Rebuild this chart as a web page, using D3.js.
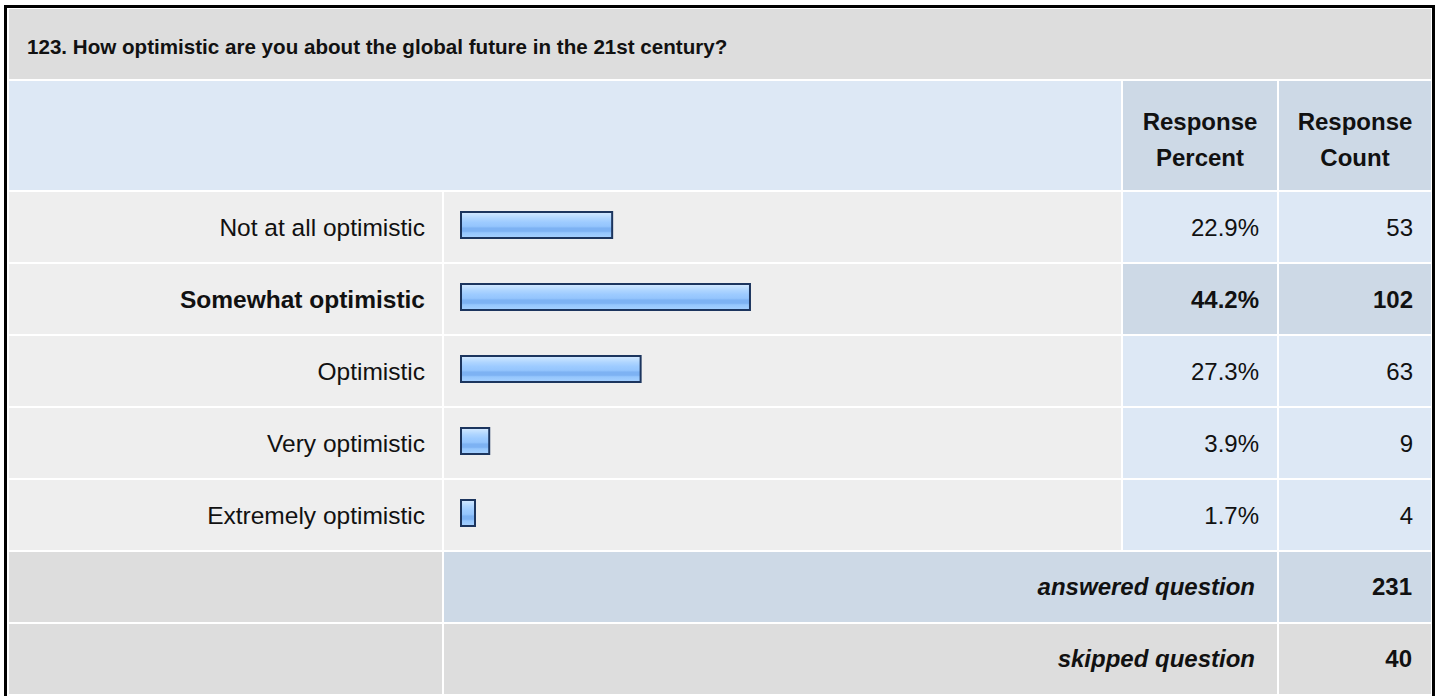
<!DOCTYPE html>
<html>
<head>
<meta charset="utf-8">
<script src="https://cdn.jsdelivr.net/npm/d3@7"></script>
<style>
  html, body { margin: 0; padding: 0; background: #ffffff; }
  svg { display: block; font-family: "Liberation Sans", Arial, sans-serif; }
</style>
</head>
<body>
<svg id="chart" width="1440" height="696"></svg>
<script>
// ---- data ----
const titleText = "123. How optimistic are you about the global future in the 21st century?";
const headerPercent = ["Response", "Percent"];
const headerCount = ["Response", "Count"];
const categories = ["Not at all optimistic", "Somewhat optimistic", "Optimistic", "Very optimistic", "Extremely optimistic"];
const percents = [22.9, 44.2, 27.3, 3.9, 1.7];
const counts = [53, 102, 63, 9, 4];
const highlighted = ["Somewhat optimistic"];
const summaryLabels = ["answered question", "skipped question"];
const summaryValues = [231, 40];

// ---- layout ----
const svg = d3.select("#chart");
const col = { labelL: 9, labelR: 442, barL: 444, barR: 1121, pctL: 1123, pctR: 1277, cntL: 1279, cntR: 1431 };
const C = {
  title: "#dddddd", header: "#dde8f5", headerDark: "#cdd9e6",
  rowLight: "#eeeeee", cellBlue: "#dde8f5", cellBlueDark: "#cdd9e6", gray: "#dddddd", text: "#111111"
};

// outer border (bottom edge falls outside the picture, as in the reference)
svg.append("rect").attr("x", 5.5).attr("y", 6.5).attr("width", 1428).attr("height", 720)
  .attr("fill", "none").attr("stroke", "#000").attr("stroke-width", 3);

function cell(x0, x1, y0, y1, fill) {
  svg.append("rect").attr("x", x0).attr("y", y0).attr("width", x1 - x0).attr("height", y1 - y0).attr("fill", fill);
}
function text(x, y, s, anchor, weight, style, size) {
  return svg.append("text").attr("x", x).attr("y", y).attr("text-anchor", anchor || "start")
    .attr("font-weight", weight || "normal").attr("font-style", style || "normal")
    .attr("font-size", size || 24).attr("fill", C.text).text(s);
}

// title row
cell(col.labelL, col.cntR, 9, 79, C.title);
text(27, 54, titleText, "start", "bold", "normal", 20.6);

// header row
cell(col.labelL, col.barR, 81, 190, C.header);
cell(col.pctL, col.pctR, 81, 190, C.headerDark);
cell(col.cntL, col.cntR, 81, 190, C.headerDark);
const pctC = (col.pctL + col.pctR) / 2, cntC = (col.cntL + col.cntR) / 2;
headerPercent.forEach((s, i) => text(pctC, 130 + i * 36, s, "middle", "bold"));
headerCount.forEach((s, i) => text(cntC, 130 + i * 36, s, "middle", "bold"));

// rows
const y = d3.scaleBand().domain(categories).range([192, 550]).paddingInner(2 / 72).paddingOuter(0);
const x = d3.scaleLinear().domain([0, 100]).range([0, 647]);

const defs = svg.append("defs");
const g = defs.append("linearGradient").attr("id", "barGrad").attr("x1", 0).attr("y1", 0).attr("x2", 0).attr("y2", 1);
[[0, "#d6eaff"], [0.12, "#c2e0ff"], [0.25, "#aed5ff"], [0.4, "#9dcbff"], [0.55, "#94c5fd"],
 [0.62, "#7db2f3"], [0.74, "#7db2f3"], [0.8, "#95c6fd"], [1, "#a6d1ff"]]
  .forEach(([o, c]) => g.append("stop").attr("offset", o).attr("stop-color", c));

categories.forEach((cat, i) => {
  const y0 = y(cat), y1 = y0 + y.bandwidth();
  const hl = highlighted.includes(cat);
  cell(col.labelL, col.labelR, y0, y1, C.rowLight);
  cell(col.barL, col.barR, y0, y1, C.rowLight);
  cell(col.pctL, col.pctR, y0, y1, hl ? C.cellBlueDark : C.cellBlue);
  cell(col.cntL, col.cntR, y0, y1, hl ? C.cellBlueDark : C.cellBlue);
  const ty = y0 + y.bandwidth() / 2 + 8.5;
  text(425, ty, cat, "end", hl ? "bold" : "normal", "normal", 24.5);
  text(1259, ty, percents[i].toFixed(1) + "%", "end", hl ? "bold" : "normal");
  text(1413, ty, counts[i], "end", hl ? "bold" : "normal");
});

// bars
svg.append("g").selectAll("rect.bar").data(categories).join("rect")
  .attr("class", "bar")
  .attr("x", 461)
  .attr("y", d => y(d) + 20)
  .attr("width", (d, i) => x(percents[i]) + 3)
  .attr("height", 26)
  .attr("fill", "url(#barGrad)")
  .attr("stroke", "#1c355e")
  .attr("stroke-width", 2);

// summary rows
const sy = [552, 624];
summaryLabels.forEach((s, i) => {
  const y0 = sy[i], y1 = y0 + 70;
  cell(col.labelL, col.labelR, y0, y1, C.gray);
  cell(col.barL, col.pctR, y0, y1, i === 0 ? C.cellBlueDark : C.gray);
  cell(col.cntL, col.cntR, y0, y1, i === 0 ? C.cellBlueDark : C.gray);
  text(1255, y0 + 43, s, "end", "bold", "italic");
  text(1412, y0 + 43, summaryValues[i], "end", "bold");
});
</script>
</body>
</html>
